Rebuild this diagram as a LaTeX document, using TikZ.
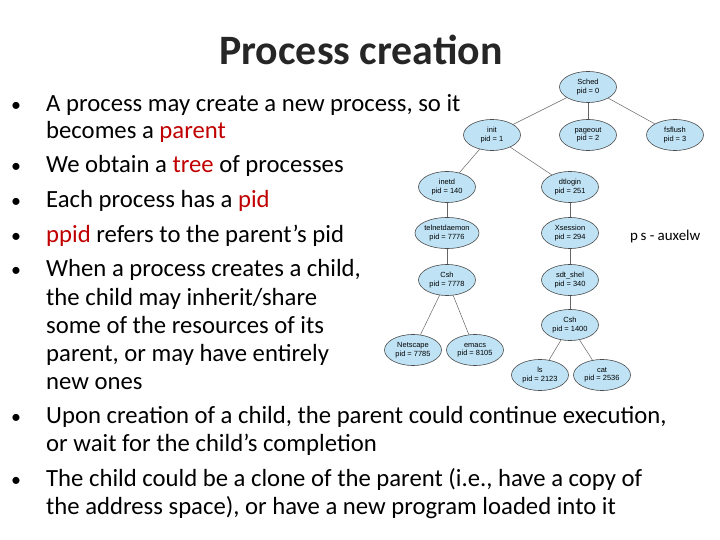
\documentclass[tikz,border=0pt]{standalone}
\usepackage{fontspec}
\setmainfont{Carlito}
\newfontfamily\arialf{Liberation Sans}
\usetikzlibrary{shapes.geometric}
\definecolor{hl}{HTML}{C00000}
\definecolor{nodefill}{HTML}{BFE3F5}
\begin{document}
\begin{tikzpicture}[x=1bp,y=-1bp,
  proc/.style={ellipse,draw=black!70,fill=nodefill,line width=0.6bp,minimum width=57bp,minimum height=31bp,inner sep=0pt,align=center,font=\fontsize{7.5}{8.5}\selectfont\arialf},
  edge/.style={draw=black!60,line width=0.5bp},
  txt/.style={anchor=base west,inner sep=0pt,font=\fontsize{24.8}{26}\selectfont},
  bul/.style={anchor=base west,inner sep=0pt,font=\fontsize{20}{24}\selectfont}]
\useasboundingbox (0,0) rectangle (720,540);
% title
\node[font=\fontsize{42}{46}\bfseries, text=black!85] (title) at (361,50) {Process creation};
% tree
\node[proc] (sched) at (588,87) {Sched\\pid = 0};
\node[proc] (init) at (492,135) {init\\pid = 1};
\node[proc] (pageout) at (588,135) {pageout\\pid = 2};
\node[proc] (fsflush) at (675,135) {fsflush\\pid = 3};
\node[proc] (inetd) at (447,187) {inetd\\pid = 140};
\node[proc] (dtlogin) at (570,187) {dtlogin\\pid = 251};
\node[proc] (telnet) at (447,233) {telnetdaemon\\pid = 7776};
\node[proc] (xsess) at (570,233) {Xsession\\pid = 294};
\node[proc] (csh1) at (447,280) {Csh\\pid = 7778};
\node[proc] (sdt) at (570,280) {sdt\_shel\\pid = 340};
\node[proc] (csh2) at (570,325) {Csh\\pid = 1400};
\node[proc] (net) at (413,350) {Netscape\\pid = 7785};
\node[proc] (emacs) at (475,350) {emacs\\pid = 8105};
\node[proc] (ls) at (540,375) {ls\\pid = 2123};
\node[proc] (cat) at (602,375) {cat\\pid = 2536};
\foreach \a/\b in {sched/init,sched/pageout,sched/fsflush,init/inetd,init/dtlogin,inetd/telnet,dtlogin/xsess,telnet/csh1,xsess/sdt,sdt/csh2,csh1/net,csh1/emacs,csh2/ls,csh2/cat}
  \draw[edge] (\a) -- (\b);
\node[anchor=west,inner sep=0pt,font=\fontsize{15}{17}\selectfont] (ps) at (630,237) {p\,s - auxelw};
% bullets
\foreach \y/\n in {112/b1,173/b2,208/b3,243/b4,277/b5,423/b6,486/b7}
  \node[bul] (\n) at (11,\y) {•};
\node[txt] (l1) at (46,112) {A process may create a new process, so it};
\node[txt] (l2) at (46,139) {becomes a \textcolor{hl}{parent}};
\node[txt] (l3) at (46,173) {We obtain a \textcolor{hl}{tree} of processes};
\node[txt] (l4) at (46,208) {Each process has a \textcolor{hl}{pid}};
\node[txt] (l5) at (46,243) {\textcolor{hl}{ppid} refers to the parent’s pid};
\node[txt] (l6) at (46,277) {When a process creates a child,};
\node[txt] (l7) at (46,305) {the child may inherit/share};
\node[txt] (l8) at (46,333) {some of the resources of its};
\node[txt] (l9) at (46,361) {parent, or may have entirely};
\node[txt] (l10) at (46,389) {new ones};
\node[txt] (l11) at (46,423) {Upon creation of a child, the parent could continue execution,};
\node[txt] (l12) at (46,451) {or wait for the child’s completion};
\node[txt] (l13) at (46,486) {The child could be a clone of the parent (i.e., have a copy of};
\node[txt] (l14) at (46,514) {the address space), or have a new program loaded into it};
\end{tikzpicture}
\end{document}
